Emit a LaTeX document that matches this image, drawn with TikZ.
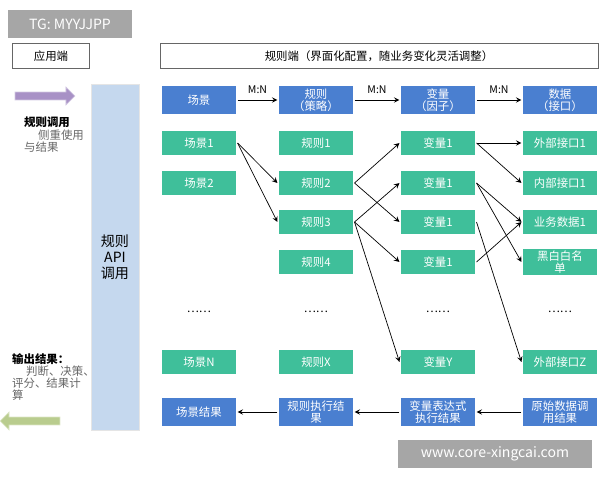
\documentclass[tikz,border=0pt]{standalone}
\usepackage{fontspec}
\setmainfont{Noto Sans CJK SC}
\usetikzlibrary{positioning,shapes.arrows}
\definecolor{hdblue}{HTML}{4A7FD0}
\definecolor{rgreen}{HTML}{3FBF9A}
\definecolor{apiblue}{HTML}{C5D8EE}
\definecolor{callviolet}{HTML}{A891C6}
\definecolor{outgreen}{HTML}{B9CC8E}
\tikzset{
  box/.style={draw=white,line width=0.6pt,minimum width=1.52cm,minimum height=0.5cm,
    text=white,inner sep=1pt,align=center,font=\fontsize{6.5}{7}\selectfont},
  hd/.style={box,fill=hdblue,minimum height=0.6cm},
  it/.style={box,fill=rgreen},
  con/.style={->,>=stealth,thin},
  blk/.style={single arrow,minimum height=1.2cm,minimum width=0.36cm,single arrow head extend=1.5pt,inner sep=1pt},
}
\begin{document}
\begin{tikzpicture}[x=0.02cm,y=-0.02cm,font=\fontsize{6.5}{7}\selectfont]
\useasboundingbox (0,0) rectangle (600,480);

% left side
\node[fill=black!35,text=white,minimum width=2.5cm,minimum height=0.56cm,font=\fontsize{8}{9}\selectfont] (tg) at (70,24) {TG: MYYJJPP};
\node[draw=black!60,minimum width=1.54cm,minimum height=0.5cm] (app) at (51,56) {应用端};
\node[draw=black!60,minimum width=8.76cm,minimum height=0.5cm] (rule) at (379,56) {规则端（界面化配置，随业务变化灵活调整）};
\node[fill=apiblue,draw=black!10,minimum width=0.96cm,minimum height=6.92cm,font=\fontsize{8}{9}\selectfont,align=center] (api) at (115,257) {规则\\API\\调用};
\node[blk,fill=callviolet,draw=callviolet!50] (callarr) at (43,96) {};
\node[align=left,anchor=north west] (calltxt) at (18,111) {\textbf{规则调用}\\\quad\ \textcolor{black!60}{侧重使用}\\\textcolor{black!60}{与结果}};
\node[align=left,anchor=north west] (outtxt) at (6,347) {\textbf{输出结果：}\\\textcolor{black!60}{\quad\ 判断、决策、}\\\textcolor{black!60}{评分、结果计}\\\textcolor{black!60}{算}};
\node[blk,shape border rotate=180,fill=outgreen,draw=outgreen!50] (outarr) at (32,421) {};

% header row
\node[hd] (h1) at (199,100) {场景};
\node[hd] (h2) at (316,100) {规则\\（策略）};
\node[hd] (h3) at (438,100) {变量\\（因子）};
\node[hd] (h4) at (560,100) {数据\\（接口）};
\draw[con] (h1) -- node[above,font=\fontsize{6}{6}\selectfont]{M:N} (h2);
\draw[con] (h2) -- node[above,font=\fontsize{6}{6}\selectfont]{M:N} (h3);
\draw[con] (h3) -- node[above,font=\fontsize{6}{6}\selectfont]{M:N} (h4);

% items
\node[it] (s1) at (199,143) {场景1};
\node[it] (s2) at (199,183) {场景2};
\node (sd) at (199,312) {……};
\node[it] (sn) at (199,362) {场景N};
\node[it] (r1) at (316,143) {规则1};
\node[it] (r2) at (316,183) {规则2};
\node[it] (r3) at (316,222) {规则3};
\node[it] (r4) at (316,262) {规则4};
\node (rd) at (316,312) {……};
\node[it] (rx) at (316,362) {规则X};
\node[it] (v1) at (438,143) {变量1};
\node[it] (v2) at (438,183) {变量1};
\node[it] (v3) at (438,222) {变量1};
\node[it] (v4) at (438,262) {变量1};
\node (vd) at (438,312) {……};
\node[it] (vy) at (438,362) {变量Y};
\node[it] (d1) at (560,143) {外部接口1};
\node[it] (d2) at (560,183) {内部接口1};
\node[it] (d3) at (560,222) {业务数据1};
\node[it] (d4) at (560,262) {黑白白名\\单};
\node (dd) at (560,312) {……};
\node[it] (dz) at (560,362) {外部接口Z};

\draw[con] (s1.east) -- (r2.west);
\draw[con] (s1.east) -- (r3.west);
\draw[con] (r2.east) -- (v1.west);
\draw[con] (r2.east) -- (v3.west);
\draw[con] (r3.east) -- (v2.west);
\draw[con] (r3.east) -- (v4.west);
\draw[con] (r3.east) -- (vy.west);
\draw[con] (v1.east) -- (d1.west);
\draw[con] (v1.east) -- (d2.west);
\draw[con] (v2.east) -- (d3.west);
\draw[con] (v2.east) -- (d4.west);
\draw[con] (v3.east) -- (dz.west);
\draw[con] (v4.east) -- (d3.west);

% results
\node[hd] (o1) at (199,412) {场景结果};
\node[hd] (o2) at (316,412) {规则执行结\\果};
\node[hd] (o3) at (438,412) {变量表达式\\执行结果};
\node[hd] (o4) at (560,412) {原始数据调\\用结果};
\draw[con] (o4) -- (o3);
\draw[con] (o3) -- (o2);
\draw[con] (o2) -- (o1);

\node[fill=black!35,text=white,minimum width=3.88cm,minimum height=0.56cm,font=\fontsize{8}{9}\selectfont] (wm) at (495,454) {www.core-xingcai.com};
\end{tikzpicture}
\end{document}
